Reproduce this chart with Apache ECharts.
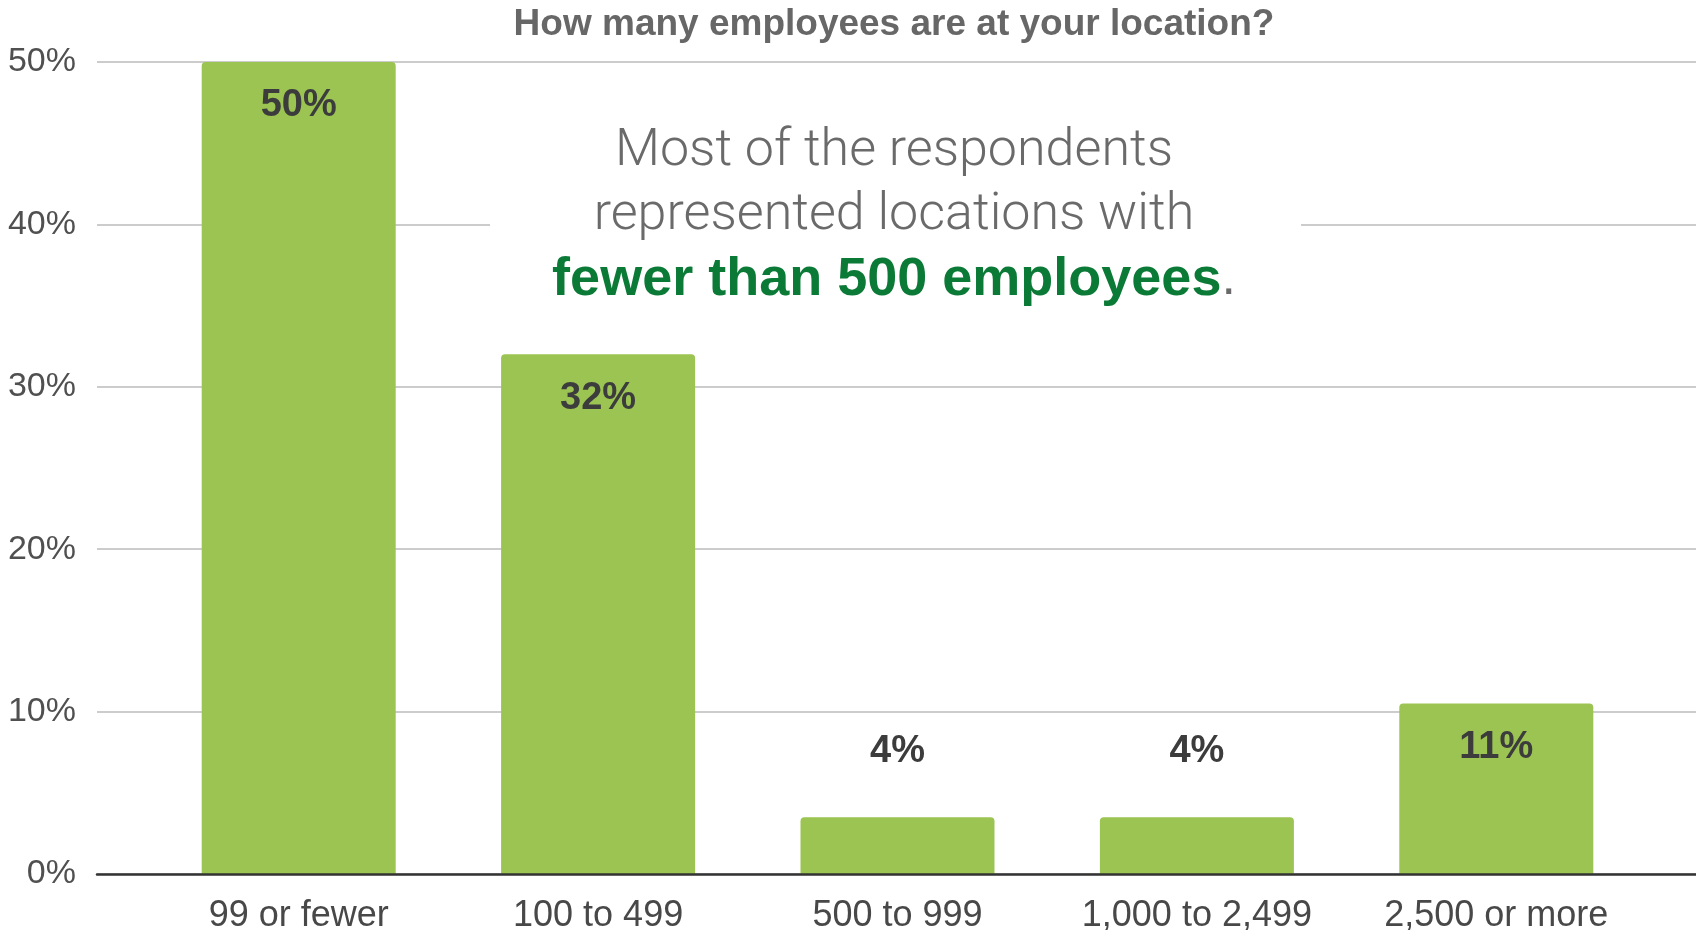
<!DOCTYPE html>
<html>
<head>
<meta charset="utf-8">
<script src="https://cdn.jsdelivr.net/npm/echarts@6/dist/echarts.min.js"></script>
<style>
  html, body { margin: 0; padding: 0; background: #ffffff; }
  #chart { width: 1696px; height: 930px; }
</style>
</head>
<body>
<div id="chart"></div>
<script>
// Survey answers: share of respondents by location headcount
const categories = ['99 or fewer', '100 to 499', '500 to 999', '1,000 to 2,499', '2,500 or more'];
const shares = [50, 32, 3.5, 3.5, 10.5];
const yTicks = [0, 10, 20, 30, 40, 50];

const titleText = 'How many employees are at your location?';
const noteLines = ['Most of the respondents', 'represented locations with'];
const noteHighlight = 'fewer than 500 employees';

const FONT = "'Helvetica Neue', 'Liberation Sans', Arial, sans-serif";
const BAR_GREEN = '#9bc452';

const chart = echarts.init(document.getElementById('chart'), null, { renderer: 'canvas' });

const gridTop = 62, gridBottom = 56;
const plotCenterX = 894;

// short bars carry their value label above, tall bars inside the top
const barData = shares.map(v => ({
  value: v,
  label: v < 8
    ? { position: 'top', distance: 47 }
    : { position: 'insideTop', distance: 25 }
}));

chart.setOption({
  backgroundColor: '#ffffff',
  animation: false,
  grid: [
    // full-width grid carrying the gridlines, tick labels and baseline
    { left: 97, right: 0, top: gridTop, bottom: gridBottom, outerBoundsMode: 'none' },
    // inner grid in which the category bands sit
    { left: 149, right: 50, top: gridTop, bottom: gridBottom, outerBoundsMode: 'none' }
  ],
  xAxis: [
    {
      gridIndex: 0, type: 'value', min: 0, max: 1, z: 5,
      axisLine: { show: true, onZero: true, lineStyle: { color: '#333333', width: 2.5 } },
      axisTick: { show: false }, axisLabel: { show: false }, splitLine: { show: false }
    },
    {
      gridIndex: 1, type: 'category', data: categories,
      axisLine: { show: false }, axisTick: { show: false },
      axisLabel: { margin: 24, fontFamily: FONT, fontSize: 36, color: '#484848' }
    }
  ],
  yAxis: [
    {
      gridIndex: 0, type: 'value', min: yTicks[0], max: yTicks[yTicks.length - 1], interval: 10,
      axisLine: { show: false }, axisTick: { show: false },
      axisLabel: { margin: 21, fontFamily: FONT, fontSize: 34, color: '#505050', formatter: '{value}%', padding: [5, 0, 0, 0] },
      splitLine: { lineStyle: { color: '#cccccc', width: 2 } }
    },
    {
      gridIndex: 1, type: 'value', min: yTicks[0], max: yTicks[yTicks.length - 1], interval: 10,
      show: false, splitLine: { show: false }
    }
  ],
  series: [{
    type: 'bar',
    xAxisIndex: 1, yAxisIndex: 1,
    data: barData,
    barWidth: 194,
    itemStyle: { color: BAR_GREEN, borderRadius: [4, 4, 0, 0] },
    label: {
      show: true,
      fontFamily: FONT, fontSize: 38, fontWeight: 'bold', color: '#3c3c3c',
      formatter: p => Math.round(p.value) + '%'
    }
  }],
  graphic: [
    {
      // chart title, centred over the plot area
      type: 'text', z: 11, x: plotCenterX, y: 25,
      style: {
        text: titleText, align: 'center', verticalAlign: 'middle',
        fontFamily: FONT, fontSize: 37, fontWeight: 'bold', fill: '#676767'
      }
    },
    { type: 'rect', z: 10, shape: { x: 490, y: 100, width: 811, height: 215 }, style: { fill: '#ffffff' } },
    {
      type: 'text', z: 11, x: plotCenterX, y: 216,
      style: {
        text: noteLines.map(s => '{l|' + s + '}').join('\n') + '\n{b|' + noteHighlight + '}{d|.}',
        align: 'center', verticalAlign: 'middle',
        rich: {
          l: { fontFamily: "Roboto, 'Open Sans', sans-serif", fontWeight: 300, fontSize: 52, lineHeight: 64, fill: '#6a6a6a' },
          d: { fontFamily: FONT, fontWeight: 'normal', fontSize: 52, lineHeight: 64, fill: '#6a6a6a' },
          b: { fontFamily: FONT, fontWeight: 'bold', fontSize: 54, lineHeight: 64, fill: '#0b7a37' }
        }
      }
    }
  ]
});
</script>
</body>
</html>
